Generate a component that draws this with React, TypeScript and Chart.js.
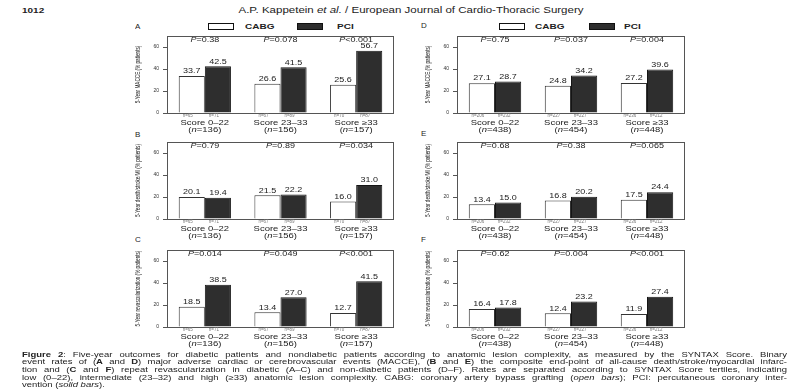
import React, { useEffect, useRef } from 'react';
import { Chart, registerables } from 'chart.js';

Chart.register(...registerables);

// ---------- data ----------
const categories = ['Score 0–22', 'Score 23–33', 'Score ≥33'];
const diabTotals = ['136', '156', '157'];
const nonDiabTotals = ['438', '454', '448'];
const diabCabgN = ['n=65', 'n=67', 'n=70'];
const diabPciN = ['n=71', 'n=89', 'n=87'];
const nonDiabCabgN = ['n=206', 'n=227', 'n=236'];
const nonDiabPciN = ['n=232', 'n=227', 'n=212'];

const yTicks = [0, 20, 40, 60];
const yMax = 70;

// A: diabetic MACCE
const cabgA = [33.7, 26.6, 25.6];
const pciA = [42.5, 41.5, 56.7];
const pA = ['=0.38', '=0.078', '<0.001'];
// B: diabetic death/stroke/MI
const cabgB = [20.1, 21.5, 16.0];
const pciB = [19.4, 22.2, 31.0];
const pB = ['=0.79', '=0.89', '=0.034'];
// C: diabetic repeat revascularization
const cabgC = [18.5, 13.4, 12.7];
const pciC = [38.5, 27.0, 41.5];
const pC = ['=0.014', '=0.049', '<0.001'];
// D: non-diabetic MACCE
const cabgD = [27.1, 24.8, 27.2];
const pciD = [28.7, 34.2, 39.6];
const pD = ['=0.75', '=0.037', '=0.004'];
// E: non-diabetic death/stroke/MI
const cabgE = [13.4, 16.8, 17.5];
const pciE = [15.0, 20.2, 24.4];
const pE = ['=0.68', '=0.38', '=0.065'];
// F: non-diabetic repeat revascularization
const cabgF = [16.4, 12.4, 11.9];
const pciF = [17.8, 23.2, 27.4];
const pF = ['=0.62', '=0.004', '<0.001'];

const titleMACCE = '5-Year MACCE (% patients)';
const titleDSM = '5-Year death/stroke/MI (% patients)';
const titleRevasc = '5-Year revascularization (% patients)';

const FONT = '"Liberation Sans", Arial, Helvetica, sans-serif';
const SQ = 0.72;

type Seg = { t: string; italic?: boolean; bold?: boolean };

function drawSegs(
  ctx: CanvasRenderingContext2D,
  segs: Seg[],
  x: number,
  y: number,
  size: number,
  color: string,
  sx: number,
  sy: number,
  rotate = 0
) {
  ctx.save();
  ctx.translate(x, y);
  if (rotate) ctx.rotate(rotate);
  ctx.scale(sx, sy);
  const fontOf = (s: Seg) => `${s.italic ? 'italic ' : ''}${s.bold ? 'bold ' : ''}${size}px ${FONT}`;
  const widths = segs.map((s) => {
    ctx.font = fontOf(s);
    return ctx.measureText(s.t).width;
  });
  const total = widths.reduce((a, b) => a + b, 0);
  let cx = -total / 2;
  ctx.textBaseline = 'middle';
  ctx.textAlign = 'left';
  ctx.fillStyle = color;
  segs.forEach((s, i) => {
    ctx.font = fontOf(s);
    ctx.fillText(s.t, cx, 0);
    cx += widths[i];
  });
  ctx.restore();
}

type PanelProps = {
  plotLeft: number;
  plotTop: number;
  plotW: number;
  plotH: number;
  cabg: number[];
  pci: number[];
  pvals: string[];
  totals: string[];
  cabgN: string[];
  pciN: string[];
  yTitle: string;
};

const AXIS_W = 45;
const PAD_TOP = 12;
const PAD_BOTTOM = 26;
const PAD_RIGHT = 4;

function Panel(p: PanelProps) {
  const ref = useRef<HTMLCanvasElement | null>(null);
  const width = AXIS_W + p.plotW + PAD_RIGHT;
  const height = PAD_TOP + p.plotH + PAD_BOTTOM;

  useEffect(() => {
    if (!ref.current) return;
    const overlay = {
      id: 'overlay',
      afterDraw(chart: any) {
        const ctx: CanvasRenderingContext2D = chart.ctx;
        const a = chart.chartArea;
        const xs = chart.scales.x;
        // plot box
        ctx.save();
        ctx.strokeStyle = '#555';
        ctx.lineWidth = 1;
        ctx.strokeRect(Math.round(a.left) + 0.5, Math.round(a.top) + 0.5, Math.round(a.right - a.left) - 1, Math.round(a.bottom - a.top));
        ctx.restore();
        // value labels + arm n labels
        chart.data.datasets.forEach((ds: any, di: number) => {
          const meta = chart.getDatasetMeta(di);
          meta.data.forEach((el: any, i: number) => {
            const v = ds.data[i] as number;
            drawSegs(ctx, [{ t: v.toFixed(1) }], el.x, el.y - 4.5, 9, '#222', 1, SQ);
            const nl = di === 0 ? p.cabgN[i] : p.pciN[i];
            drawSegs(ctx, [{ t: nl }], el.x - 4, a.bottom + 2.5, 4.5, '#777', 1, 1);
          });
        });
        // P values & category labels
        categories.forEach((c, i) => {
          const cx = xs.getPixelForValue(i);
          drawSegs(ctx, [{ t: 'P', italic: true }, { t: p.pvals[i] }], cx, a.top + 4.5, 9, '#222', 1, SQ);
          drawSegs(ctx, [{ t: c }], cx, a.bottom + 10, 9.5, '#222', 1, SQ);
          drawSegs(ctx, [{ t: '(' }, { t: 'n', italic: true }, { t: '=' + p.totals[i] + ')' }], cx, a.bottom + 17.5, 9.5, '#222', 1, SQ);
        });
        // y title
        drawSegs(ctx, [{ t: p.yTitle }], a.left - 29, (a.top + a.bottom) / 2, 7.5, '#222', 0.62, 1, -Math.PI / 2);
      },
    };
    const chart = new Chart(ref.current, {
      type: 'bar',
      data: {
        labels: categories,
        datasets: [
          {
            label: 'CABG',
            data: p.cabg,
            backgroundColor: '#ffffff',
            borderColor: '#333333',
            borderWidth: 1,
            categoryPercentage: 0.69,
            barPercentage: 1,
          },
          {
            label: 'PCI',
            data: p.pci,
            backgroundColor: '#2e2e2e',
            borderColor: '#151515',
            borderWidth: 1,
            categoryPercentage: 0.69,
            barPercentage: 1,
          },
        ],
      },
      options: {
        responsive: false,
        animation: false,
        devicePixelRatio: 1,
        layout: { padding: { left: 0, top: PAD_TOP, right: PAD_RIGHT, bottom: PAD_BOTTOM } },
        plugins: { legend: { display: false }, tooltip: { enabled: false } },
        scales: {
          x: { display: false },
          y: {
            min: 0,
            max: yMax,
            afterFit: (s: any) => {
              s.width = AXIS_W;
            },
            afterBuildTicks: (s: any) => {
              s.ticks = yTicks.map((v) => ({ value: v }));
            },
            ticks: { font: { size: 5, family: FONT }, color: '#333', padding: 4 },
            grid: { drawOnChartArea: false, tickLength: 4, color: '#555' },
            border: { color: '#555' },
          },
        },
      },
      plugins: [overlay],
    } as any);
    return () => chart.destroy();
  }, []);

  return (
    <canvas
      ref={ref}
      width={width}
      height={height}
      style={{ position: 'absolute', left: p.plotLeft - AXIS_W, top: p.plotTop - PAD_TOP, width, height }}
    />
  );
}

function Txt(props: {
  x: number;
  y: number;
  size: number;
  sy?: number;
  bold?: boolean;
  align?: 'left' | 'center';
  children: React.ReactNode;
}) {
  const { x, y, size, sy = SQ, bold, align = 'left', children } = props;
  const style: React.CSSProperties = {
    position: 'absolute',
    top: y - size / 2,
    fontSize: size,
    lineHeight: `${size}px`,
    fontWeight: bold ? 'bold' : 'normal',
    color: '#222',
    whiteSpace: 'nowrap',
    transform: `scaleY(${sy})`,
    transformOrigin: 'center',
    fontFamily: FONT,
  };
  if (align === 'center') {
    style.left = x - 300;
    style.width = 600;
    style.textAlign = 'center';
  } else {
    style.left = x;
  }
  return <div style={style}>{children}</div>;
}

function LegendBox(props: { x: number; y: number; dark?: boolean }) {
  return (
    <div
      style={{
        position: 'absolute',
        left: props.x,
        top: props.y,
        width: 26,
        height: 7,
        boxSizing: 'border-box',
        border: '1.5px solid #111',
        background: props.dark ? '#2e2e2e' : '#fff',
      }}
    />
  );
}

const captionLines: React.ReactNode[] = [
  <>
    <b>Figure 2</b>: Five-year outcomes for diabetic patients and nondiabetic patients according to anatomic lesion complexity, as measured by the SYNTAX Score. Binary
  </>,
  <>
    event rates of (<b>A</b> and <b>D</b>) major adverse cardiac or cerebrovascular events (MACCE), (<b>B</b> and <b>E</b>) the composite end-point of all-cause death/stroke/myocardial infarc-
  </>,
  <>
    tion and (<b>C</b> and <b>F</b>) repeat revascularization in diabetic (A–C) and non-diabetic patients (D–F). Rates are separated according to SYNTAX Score tertiles, indicating
  </>,
  <>
    low (0–22), intermediate (23–32) and high (≥33) anatomic lesion complexity. CABG: coronary artery bypass grafting (<i>open bars</i>); PCI: percutaneous coronary inter-
  </>,
  <>
    vention (<i>solid bars</i>).
  </>,
];

export default function App() {
  const L = 167;
  const R = 457;
  const W1 = 227;
  const W2 = 228;
  const H = 77;
  return (
    <div
      style={{
        position: 'absolute',
        left: 0,
        top: 0,
        width: 806,
        height: 389,
        background: '#fff',
        overflow: 'hidden',
        fontFamily: FONT,
      }}
    >
      {/* header */}
      <Txt x={22} y={11} size={10} bold sy={0.8}>1012</Txt>
      <Txt x={411} y={11} size={11.5} sy={0.75} align="center">
        A.P. Kappetein <i>et al.</i> / European Journal of Cardio-Thoracic Surgery
      </Txt>

      {/* panel letters */}
      <Txt x={135} y={27} size={8} sy={0.85}>A</Txt>
      <Txt x={135} y={134.5} size={8} sy={0.85}>B</Txt>
      <Txt x={135} y={240} size={8} sy={0.85}>C</Txt>
      <Txt x={421} y={26} size={8} sy={0.85}>D</Txt>
      <Txt x={421} y={133.5} size={8} sy={0.85}>E</Txt>
      <Txt x={421} y={240} size={8} sy={0.85}>F</Txt>

      {/* legends */}
      <LegendBox x={208} y={23} />
      <Txt x={245} y={27} size={10} bold>CABG</Txt>
      <LegendBox x={297} y={23} dark />
      <Txt x={337} y={27} size={10} bold>PCI</Txt>
      <LegendBox x={499} y={23} />
      <Txt x={535} y={27} size={10} bold>CABG</Txt>
      <LegendBox x={589} y={23} dark />
      <Txt x={624} y={27} size={10} bold>PCI</Txt>

      {/* panels */}
      <Panel plotLeft={L} plotTop={36} plotW={W1} plotH={H} cabg={cabgA} pci={pciA} pvals={pA} totals={diabTotals} cabgN={diabCabgN} pciN={diabPciN} yTitle={titleMACCE} />
      <Panel plotLeft={L} plotTop={142} plotW={W1} plotH={H} cabg={cabgB} pci={pciB} pvals={pB} totals={diabTotals} cabgN={diabCabgN} pciN={diabPciN} yTitle={titleDSM} />
      <Panel plotLeft={L} plotTop={250} plotW={W1} plotH={H} cabg={cabgC} pci={pciC} pvals={pC} totals={diabTotals} cabgN={diabCabgN} pciN={diabPciN} yTitle={titleRevasc} />
      <Panel plotLeft={R} plotTop={36} plotW={W2} plotH={H} cabg={cabgD} pci={pciD} pvals={pD} totals={nonDiabTotals} cabgN={nonDiabCabgN} pciN={nonDiabPciN} yTitle={titleMACCE} />
      <Panel plotLeft={R} plotTop={142} plotW={W2} plotH={H} cabg={cabgE} pci={pciE} pvals={pE} totals={nonDiabTotals} cabgN={nonDiabCabgN} pciN={nonDiabPciN} yTitle={titleDSM} />
      <Panel plotLeft={R} plotTop={250} plotW={W2} plotH={H} cabg={cabgF} pci={pciF} pvals={pF} totals={nonDiabTotals} cabgN={nonDiabCabgN} pciN={nonDiabPciN} yTitle={titleRevasc} />

      {/* caption */}
      {captionLines.map((ln, i) => (
        <div
          key={i}
          style={{
            position: 'absolute',
            left: 22,
            top: 354.5 + i * 7.7 - 5,
            width: 765,
            fontSize: 9.5,
            lineHeight: '10px',
            height: 10,
            color: '#222',
            textAlign: 'justify',
            textAlignLast: i < captionLines.length - 1 ? 'justify' : 'left',
            transform: `scaleY(0.76)`,
            transformOrigin: 'center',
            fontFamily: FONT,
          }}
        >
          {ln}
        </div>
      ))}
    </div>
  );
}
